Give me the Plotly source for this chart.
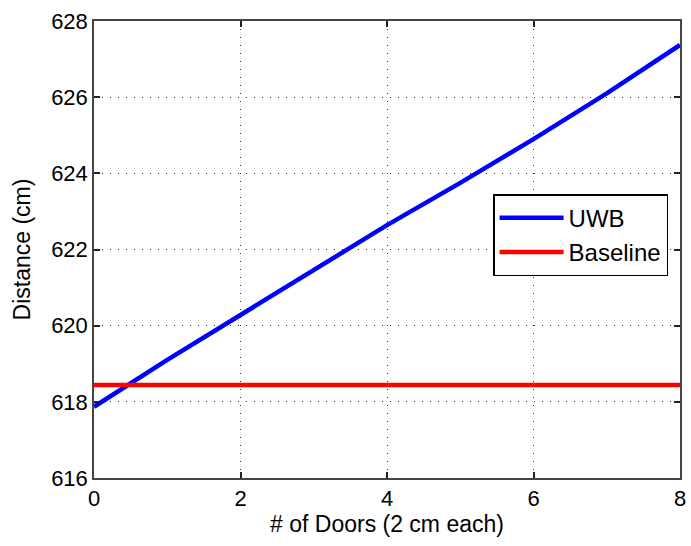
import plotly.graph_objects as go

doors = [0, 1, 2, 3, 4, 5, 6, 7, 8]
uwb = [617.87, 619.1, 620.28, 621.45, 622.64, 623.75, 624.9, 626.1, 627.37]
baseline = [618.44] * len(doors)

x_ticks = [0, 2, 4, 6, 8]
y_ticks = [616, 618, 620, 622, 624, 626, 628]

FONT = "Liberation Sans, Arial, Helvetica, sans-serif"

fig = go.Figure()
fig.add_trace(go.Scatter(x=doors, y=uwb, mode="lines", name="UWB",
                         line=dict(color="#0000ff", width=4.5)))
fig.add_trace(go.Scatter(x=doors, y=baseline, mode="lines", name="Baseline",
                         line=dict(color="#ff0000", width=4.5)))

axis_common = dict(
    showline=True, linecolor="#444444", linewidth=1.5, mirror="ticks",
    ticks="inside", ticklen=6, tickcolor="#222222", tickwidth=1.5,
    showgrid=True, gridcolor="#333333", griddash="1px,7px", gridwidth=1.3,
    zeroline=False,
    tickfont=dict(family=FONT, size=22, color="#000000"),
    title_font=dict(family=FONT, size=23, color="#000000"),
)

fig.update_xaxes(range=[0, 8], tickvals=x_ticks, title_text="# of Doors (2 cm each)",
                 title_standoff=6, **axis_common)
fig.update_yaxes(range=[616, 628], tickvals=y_ticks, title_text="Distance (cm)",
                 title_standoff=14, **axis_common)

fig.update_layout(
    width=691, height=546,
    margin=dict(l=94, r=5, t=21, b=68),
    plot_bgcolor="white", paper_bgcolor="white",
    font=dict(family=FONT, size=22, color="#000000"),
    showlegend=True,
    legend=dict(x=0.681, y=0.621, xanchor="left", yanchor="top",
                bgcolor="white", bordercolor="#000000", borderwidth=1.5,
                font=dict(family=FONT, size=24), itemwidth=64, tracegroupgap=0),
)

fig.write_html("out.html")
